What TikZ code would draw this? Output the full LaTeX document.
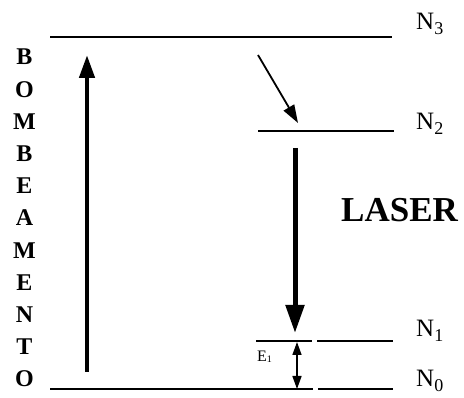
\documentclass[tikz,border=0pt]{standalone}
\usepackage{fontspec}
\setmainfont{Liberation Serif}
\usetikzlibrary{arrows.meta}
\newcommand{\lsub}[1]{\raisebox{-5pt}{\fontsize{18}{18}\selectfont #1}}
\begin{document}
\begin{tikzpicture}[x=1pt,y=-1pt,
  level/.style={line width=1.8pt},
  pumparrow/.style={line width=4.5pt,-{Triangle[length=23pt,width=15pt]}},
  laserarrow/.style={line width=5pt,-{Triangle[length=28pt,width=18pt]}},
  thinarrow/.style={line width=1.8pt,-{Triangle[length=18pt,width=12pt]}},
  dblarrow/.style={line width=1.6pt,{Triangle[length=13pt,width=9pt]}-{Triangle[length=13pt,width=9pt]}},
  lvl/.style={font=\fontsize{25}{25}\selectfont,anchor=base west,inner sep=0pt},
  vert/.style={font=\bfseries\fontsize{24}{24}\selectfont,anchor=base,inner sep=0pt}]
\useasboundingbox (0,0) rectangle (464,398);
% levels
\coordinate (n3a) at (50,37); \coordinate (n3b) at (392,37);
\coordinate (n2a) at (258,131); \coordinate (n2b) at (394,131);
\coordinate (n1a) at (256,341); \coordinate (n1m) at (312,341);
\coordinate (n1n) at (317,341); \coordinate (n1b) at (393,341);
\coordinate (n0a) at (50,389); \coordinate (n0m) at (313,389);
\coordinate (n0n) at (318,389); \coordinate (n0b) at (393,389);
\draw[level] (n3a) -- (n3b);
\draw[level] (n2a) -- (n2b);
\draw[level] (n1a) -- (n1m);
\draw[level] (n1n) -- (n1b);
\draw[level] (n0a) -- (n0m);
\draw[level] (n0n) -- (n0b);
% labels
\node[lvl] (N3) at (416,30) {N\lsub{3}};
\node[lvl] (N2) at (416,130) {N\lsub{2}};
\node[lvl] (N1) at (416,337) {N\lsub{1}};
\node[lvl] (N0) at (416,387) {N\lsub{0}};
\node[font=\bfseries\fontsize{35}{35}\selectfont,anchor=base west,inner sep=0pt] (laser) at (341,222) {LASER};
\foreach \l [count=\i from 0] in {B,O,M,B,E,A,M,E,N,T,O}
  \node[vert] (b\i) at (24.5,65+32.2*\i) {\l};
\node[font=\fontsize{16}{16}\selectfont,inner sep=0pt,anchor=base west] (E1) at (257,362) {E\raisebox{-1pt}{\fontsize{10}{10}\selectfont 1}};
% arrows
\coordinate (pa) at (87,372); \coordinate (pb) at (87,55);
\draw[pumparrow] (pa) -- (pb);
\coordinate (da) at (258,55); \coordinate (db) at (298,123);
\draw[thinarrow] (da) -- (db);
\coordinate (la) at (295,148); \coordinate (lb) at (295,333);
\draw[laserarrow] (la) -- (lb);
\coordinate (ea) at (297,342); \coordinate (eb) at (297,389);
\draw[dblarrow] (ea) -- (eb);
\end{tikzpicture}
\end{document}
